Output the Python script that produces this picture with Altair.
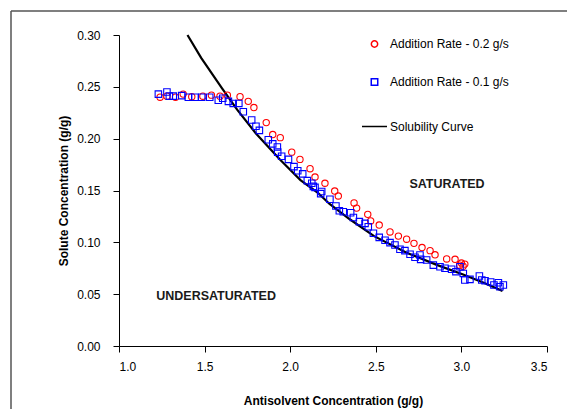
import altair as alt
import pandas as pd

# ---- data ----
sol_x = [1.40, 1.48, 1.60, 1.69, 1.80, 1.94, 2.06, 2.16, 2.23, 2.35, 2.49, 2.68, 2.86, 3.01, 3.13, 3.24]
sol_y = [0.300, 0.278, 0.249, 0.228, 0.205, 0.180, 0.160, 0.148, 0.137, 0.122, 0.106, 0.090, 0.078, 0.069, 0.061, 0.053]

red_x = [1.24, 1.28, 1.33, 1.375, 1.425, 1.49, 1.54, 1.59, 1.633, 1.707, 1.755, 1.788, 1.86, 1.898, 1.942,
         2.009, 2.057, 2.116, 2.145, 2.203, 2.26, 2.281, 2.373, 2.388, 2.453, 2.47, 2.52, 2.583, 2.632, 2.68,
         2.723, 2.77, 2.817, 2.846, 2.914, 2.963, 2.99, 3.00, 3.01, 3.02]
red_y = [0.240, 0.241, 0.240, 0.243, 0.2405, 0.241, 0.242, 0.241, 0.242, 0.2405, 0.236, 0.230, 0.2155, 0.204, 0.201,
         0.187, 0.180, 0.171, 0.163, 0.157, 0.1495, 0.1447, 0.138, 0.133, 0.127, 0.1206, 0.1167, 0.110, 0.106, 0.103,
         0.099, 0.095, 0.092, 0.088, 0.084, 0.0836, 0.078, 0.080, 0.077, 0.079]

blue_x = [1.23, 1.28, 1.294, 1.317, 1.366, 1.405, 1.444, 1.483, 1.53, 1.58, 1.606, 1.639, 1.667, 1.70, 1.726,
          1.775, 1.80, 1.82, 1.872, 1.898, 1.925, 1.927, 1.95, 1.99, 2.022, 2.044, 2.073, 2.10, 2.126, 2.135,
          2.145, 2.178, 2.184, 2.232, 2.267, 2.287, 2.31, 2.353, 2.369, 2.404, 2.437, 2.456, 2.486, 2.52, 2.554,
          2.583, 2.612, 2.641, 2.67, 2.70, 2.729, 2.758, 2.762, 2.797, 2.836, 2.875, 2.904, 2.943, 2.968, 2.992,
          3.011, 3.02, 3.05, 3.105, 3.119, 3.138, 3.171, 3.19, 3.216, 3.225, 3.245]
blue_y = [0.243, 0.245, 0.241, 0.241, 0.2415, 0.240, 0.240, 0.240, 0.240, 0.237, 0.239, 0.236, 0.234, 0.234, 0.226,
          0.218, 0.212, 0.208, 0.199, 0.195, 0.192, 0.187, 0.183, 0.180, 0.173, 0.169, 0.166, 0.1595, 0.157, 0.154,
          0.153, 0.147, 0.149, 0.1415, 0.135, 0.1305, 0.1295, 0.1286, 0.124, 0.120, 0.1183, 0.115, 0.1087, 0.1048, 0.102,
          0.0997, 0.0974, 0.0933, 0.092, 0.0885, 0.0856, 0.0878, 0.0836, 0.083, 0.078, 0.0765, 0.075, 0.074, 0.0717, 0.0765,
          0.070, 0.0637, 0.0643, 0.0675, 0.0637, 0.063, 0.0617, 0.0588, 0.061, 0.0572, 0.0588]

series = ["Addition Rate - 0.2 g/s", "Addition Rate - 0.1 g/s", "Solubility Curve"]
series_colors = ["#ff0000", "#0000ff", "#000000"]
series_shapes = ["circle", "square", "stroke"]
series_sizes = [40, 42, 625]

x_ticks = [1.0, 1.5, 2.0, 2.5, 3.0, 3.5]
y_ticks = [0.00, 0.05, 0.10, 0.15, 0.20, 0.25, 0.30]

notes = ["SATURATED", "UNDERSATURATED"]
notes_x = [2.916, 1.567]
notes_y = [0.156, 0.048]

# ---- tables ----
df_sol = pd.DataFrame({"x": sol_x, "y": sol_y, "s": series[2]})
df_pts = pd.concat([
    pd.DataFrame({"x": red_x, "y": red_y, "s": series[0]}),
    pd.DataFrame({"x": blue_x, "y": blue_y, "s": series[1]}),
], ignore_index=True)
df_notes = pd.DataFrame({"x": notes_x, "y": notes_y, "t": notes})

FONT = "Liberation Sans"

xs = alt.X("x:Q", scale=alt.Scale(domain=[1.0, 3.5], nice=False, zero=False),
           axis=alt.Axis(values=x_ticks, format=".1f", title="Antisolvent Concentration (g/g)",
                         titlePadding=23, labelPadding=9))
ys = alt.Y("y:Q", scale=alt.Scale(domain=[0, 0.30], nice=False, zero=False),
           axis=alt.Axis(values=y_ticks, format=".2f", title="Solute Concentration (g/g)",
                         titlePadding=6, labelPadding=13))

color = alt.Color("s:N", scale=alt.Scale(domain=series, range=series_colors),
                  legend=alt.Legend(title=None, orient="none", legendX=242, legendY=3,
                                    rowPadding=24, labelFontSize=12, labelFont=FONT,
                                    labelColor="#000000", symbolStrokeWidth=1.5, labelOffset=2))
shape = alt.Shape("s:N", scale=alt.Scale(domain=series, range=series_shapes), title=None)
size = alt.Size("s:N", scale=alt.Scale(type="ordinal", domain=series, range=series_sizes), title=None)

points = alt.Chart(df_pts).mark_point(filled=False, strokeWidth=1.1, opacity=1).encode(
    x=xs, y=ys, color=color, shape=shape, size=size)

line = alt.Chart(df_sol).mark_line(strokeWidth=2.2).encode(x=xs, y=ys, color=color)

text = alt.Chart(df_notes).mark_text(font=FONT, fontSize=12.5, fontWeight="bold", color="#1a1a1a").encode(
    x="x:Q", y="y:Q", text="t:N")

frame_v = alt.Chart(alt.Data(values=[{}])).mark_rule(color="#555555", strokeWidth=1.5).encode(
    x=alt.value(-108), y=alt.value(-24), y2=alt.value(500))
frame_h = alt.Chart(alt.Data(values=[{}])).mark_rule(color="#555555", strokeWidth=1.5).encode(
    x=alt.value(-108), x2=alt.value(700), y=alt.value(-24))

chart = alt.layer(frame_v, frame_h, line, points, text).properties(
    width=428, height=311,
    autosize=alt.AutoSizeParams(type="none"),
    padding={"left": 111, "top": 27, "right": 20, "bottom": 63},
    background="white",
).configure_view(stroke=None).configure_axis(
    grid=False, domainColor="#000000", tickColor="#000000", tickSize=6,
    labelFont=FONT, labelFontSize=12, labelColor="#000000",
    titleFont=FONT, titleFontSize=12, titleFontWeight="bold", titleColor="#000000",
)

chart.save("out.html", embed_options={"renderer": "svg", "actions": False})
